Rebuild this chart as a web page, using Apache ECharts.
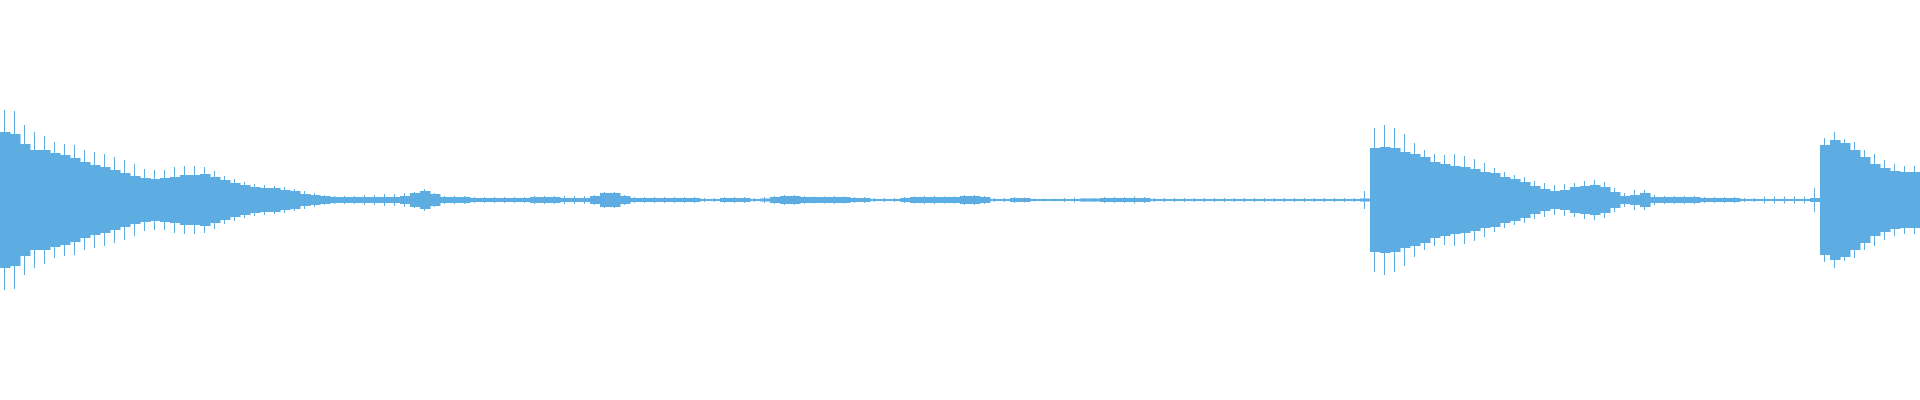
<!DOCTYPE html>
<html>
<head>
<meta charset="utf-8">
<script src="https://cdn.jsdelivr.net/npm/echarts@6/dist/echarts.min.js"></script>
<style>
html,body{margin:0;padding:0;background:#fff;}
#c{width:1920px;height:400px;}
</style>
</head>
<body>
<div id="c"></div>
<script>
// Waveform envelope, one value per 10px time slice (192 slices)
// core = solid body amplitude, peak = tallest spike in the slice
const core = [
 68,66,56,50,50,47,45,42,38,35, 33,30,27,24,22,21,22,23,25,25,
 26,23,20,17,15,13,12,12,10,9, 6,5,4,3,3,3,3,3,3,3,
 4,7,9,6,3,3,3,2,2,2, 2,2,2,3,3,3,2,2,2,4,
 7,7,4,2,2,2,2,2,2,2, 1,1,2,2,2,1,1.5,3,4,4,
 3,3,3,3,3,2,2,1,1,1, 2,3,3,3,3,3,4,4,3,1,
 1,2,2,1,1,1,1,1,1.5,1.5, 2,2,2,2,2,1,1,1,1,1,
 1,1,1,1,1,1,1,1,1,1, 1,1,1,1,1,1,1.5,52,53,52,
 48,46,43,38,36,34,33,31,28,27, 23,21,18,14,11,9,10,13,14,15,
 13,8,4,5,7,3,3,3,3,3, 2,2,2,2,1,1,1,1,1,1,
 1,2,55,60,57,50,43,36,32,29, 28,28
];
const peak = [
 90,89,75,68,64,58,56,55,50,48, 46,43,40,36,31,30,30,33,34,34,
 33,29,24,21,18,16,15,14,13,11, 9,7,5,4,4,4,5,5,6,6,
 7,8,11,7,4,4,4,3,3,3, 3,3,3,4,4,4,4,4,4,5,
 8,8,5,3,3,3,3,3,3,3, 2,2,3,3,3,2,3,4,5,5,
 4,3.5,3.5,4,3.5,3,3,2,2,2, 3,3.5,4,4,3.5,3.5,5,5,4,2,
 2,3,2.5,1.5,1.5,1.5,2,2.5,2,2, 3,3,3,3.5,3,2,2,2,2,2,
 2,2,2,2,2,2,2,2,2,2, 2,2,2,2,2,2,9,72,75,72,
 66,57,50,46,45,46,44,41,37,32, 28,25,23,19,17,15,16,17,19,20,
 18,12,7,10,10,5,4,4,4,4, 3,3,3,3,2,2,3.5,3.5,3.5,3.5,
 3.5,12,62,68,61,58,50,46,40,36, 34,34
];
const slices = core.map((_, i) => String(i));

const color = '#5dade2';
const chart = echarts.init(document.getElementById('c'), null, {renderer: 'canvas'});
chart.setOption({
  animation: false,
  backgroundColor: '#ffffff',
  grid: {left: 0, right: 0, top: 0, bottom: 0},
  xAxis: {type: 'category', data: slices, boundaryGap: true, show: false},
  yAxis: {type: 'value', min: -200, max: 200, show: false},
  series: [
    {
      type: 'custom',
      data: core.map((v, i) => [i, v]),
      renderItem: function (params, api) {
        const top = api.coord([api.value(0), api.value(1)]);
        const bot = api.coord([api.value(0), -api.value(1)]);
        const w = api.size([1, 0])[0];
        return {type: 'rect', shape: {x: top[0] - w / 2, y: top[1], width: w + 0.5, height: bot[1] - top[1]}, style: {fill: color}};
      }
    },
    {
      type: 'custom',
      data: peak.map((v, i) => [i, v]),
      renderItem: function (params, api) {
        const top = api.coord([api.value(0), api.value(1)]);
        const bot = api.coord([api.value(0), -api.value(1)]);
        return {type: 'rect', shape: {x: Math.round(top[0]) - 1, y: top[1], width: 1, height: bot[1] - top[1]}, style: {fill: color}};
      }
    }
  ]
});
</script>
</body>
</html>
